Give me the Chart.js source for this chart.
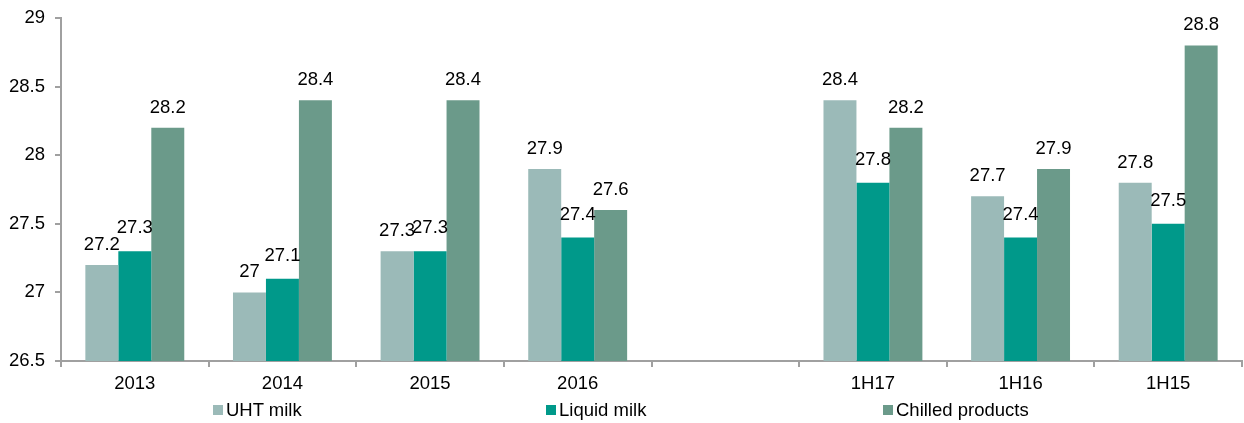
<!DOCTYPE html>
<html>
<head>
<meta charset="utf-8">
<script src="https://cdn.jsdelivr.net/npm/chart.js@4/dist/chart.umd.min.js"></script>
<style>
  html, body { margin: 0; padding: 0; background: #fff; }
  #wrap { position: relative; width: 1244px; height: 423px; }
  #legend { position: absolute; left: 0; top: 399px; width: 1244px; height: 24px;
            font-family: "Liberation Sans", Arial, sans-serif; font-size: 18.5px; color: #000; }
  .item { position: absolute; top: 0; white-space: nowrap; line-height: 22px; }
  .box { display: inline-block; width: 10px; height: 10px; margin-right: 3px; vertical-align: 1px; }
</style>
</head>
<body>
<div id="wrap">
  <canvas id="chart" width="1244" height="423"></canvas>
  <div id="legend"></div>
</div>
<script>
const categories = ["2013", "2014", "2015", "2016", "", "1H17", "1H16", "1H15"];
const uhtMilk = [27.2, 27.0, 27.3, 27.9, null, 28.4, 27.7, 27.8];
const liquidMilk = [27.3, 27.1, 27.3, 27.4, null, 27.8, 27.4, 27.5];
const chilledProducts = [28.2, 28.4, 28.4, 27.6, null, 28.2, 27.9, 28.8];
const seriesNames = ["UHT milk", "Liquid milk", "Chilled products"];
const colors = ["#9bbab8", "#00998a", "#6b9a8a"];
const legendLeft = [213, 546, 883];
const labelLift = [15, 18, 15];

const FONT = "'Liberation Sans', Arial, sans-serif";
const FS = 18.5;

// value labels above bars
const valueLabels = {
    id: "valueLabels",
    afterDatasetsDraw(chart) {
        const ctx = chart.ctx;
        ctx.save();
        ctx.font = FS + "px " + FONT;
        ctx.fillStyle = "#000";
        ctx.textAlign = "center";
        ctx.textBaseline = "alphabetic";
        chart.data.datasets.forEach((ds, i) => {
            chart.getDatasetMeta(i).data.forEach((bar, j) => {
                const v = ds.data[j];
                if (v === null) return;
                ctx.fillText(String(v), bar.x, bar.y - labelLift[i]);
            });
        });
        ctx.restore();
    }
};

const data = [uhtMilk, liquidMilk, chilledProducts];

new Chart(document.getElementById("chart"), {
    type: "bar",
    data: {
        labels: categories,
        datasets: data.map((d, i) => ({
            label: seriesNames[i],
            data: d,
            backgroundColor: colors[i],
            borderWidth: 0,
            categoryPercentage: 0.67,
            barPercentage: 1.0
        }))
    },
    options: {
        responsive: false,
        animation: false,
        layout: { padding: { top: 18, right: 2, left: 0, bottom: 0 } },
        plugins: {
            legend: { display: false },
            tooltip: { enabled: false }
        },
        scales: {
            x: {
                grid: { display: true, drawOnChartArea: false, drawTicks: true, tickLength: 6, offset: true, color: "#a0a0a0", lineWidth: 2 },
                border: { display: true, color: "#a0a0a0", width: 2 },
                ticks: { color: "#000", font: { family: FONT, size: FS }, padding: 6, maxRotation: 0 },
                afterFit(scale) { scale.height = 62; }
            },
            y: {
                min: 26.5,
                max: 29,
                grid: { display: true, drawOnChartArea: false, drawTicks: true, tickLength: 6, color: "#a0a0a0", lineWidth: 2 },
                border: { display: true, color: "#a0a0a0", width: 2 },
                ticks: {
                    stepSize: 0.5,
                    color: "#000",
                    font: { family: FONT, size: FS, lineHeight: 1 },
                    padding: 10,
                    callback: v => String(Math.round(v * 10) / 10)
                },
                afterFit(scale) {
                    scale.width = 61;
                    scale.paddingTop = 0;
                    scale.paddingBottom = 0;
                }
            }
        }
    },
    plugins: [valueLabels]
});

const legend = document.getElementById("legend");
seriesNames.forEach((name, i) => {
    const item = document.createElement("span");
    item.className = "item";
    item.style.left = legendLeft[i] + "px";
    item.innerHTML = '<span class="box" style="background:' + colors[i] + '"></span>' + name;
    legend.appendChild(item);
});
</script>
</body>
</html>
